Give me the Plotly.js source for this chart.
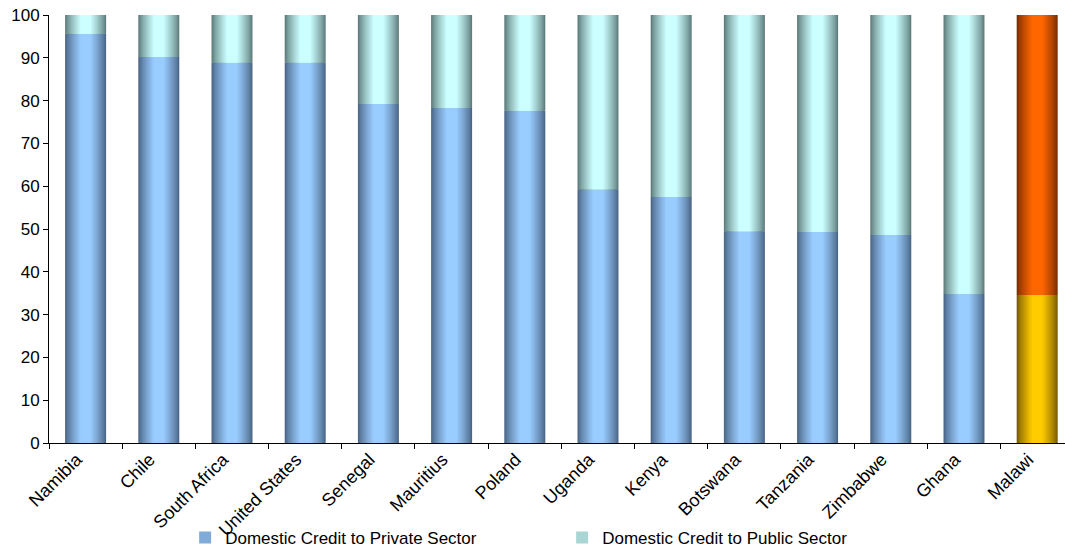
<!DOCTYPE html>
<html>
<head>
<meta charset="utf-8">
<script src="https://cdn.plot.ly/plotly-3.0.1.min.js"></script>
<style>
  html, body { margin: 0; padding: 0; background: #ffffff; }
  #chart { width: 1065px; height: 548px; }
</style>
</head>
<body>
<div id="chart"></div>
<script>
// Share of domestic credit going to the private and public sectors (%)
const countries = ["Namibia", "Chile", "South Africa", "United States", "Senegal", "Mauritius",
                   "Poland", "Uganda", "Kenya", "Botswana", "Tanzania", "Zimbabwe", "Ghana", "Malawi"];
const privateShare = [95.6, 90.2, 88.9, 88.9, 79.2, 78.3, 77.6, 59.3, 57.5, 49.5, 49.3, 48.6, 34.8, 34.6];
const publicShare  = [4.4, 9.8, 11.1, 11.1, 20.8, 21.7, 22.4, 40.7, 42.5, 50.5, 50.7, 51.4, 65.2, 65.4];
const yTicks = [0, 10, 20, 30, 40, 50, 60, 70, 80, 90, 100];
const highlighted = "Malawi";

// Cylinder shading: each bar is a stack of narrower, lighter layers (edge -> centre)
const palette = {
  private: { edge: "#4b6686", centre: "#99ccff", hiEdge: "#7a5c00", hiCentre: "#ffcc00" },
  public:  { edge: "#5e7c7c", centre: "#ccffff", hiEdge: "#7a2e00", hiCentre: "#ff6600" }
};
const LAYERS = 14;
const BAR_WIDTH = 0.56;

function hexToRgb(h) {
  const n = parseInt(h.slice(1), 16);
  return [(n >> 16) & 255, (n >> 8) & 255, n & 255];
}
function mix(a, b, t) {
  const A = hexToRgb(a), B = hexToRgb(b);
  const c = A.map((v, i) => Math.round(v + (B[i] - v) * t));
  return "rgb(" + c.join(",") + ")";
}

function shadedSeries(name, values, base, pal) {
  const out = [];
  for (let k = 0; k < LAYERS; k++) {
    const t = k / (LAYERS - 1);
    const shade = Math.pow(t, 0.8);
    const colors = countries.map(c => c === highlighted
      ? mix(pal.hiEdge, pal.hiCentre, shade)
      : mix(pal.edge, pal.centre, shade));
    out.push({
      type: "bar",
      name: name,
      x: countries,
      y: values,
      base: base,
      width: BAR_WIDTH * (1 - 0.74 * t),
      marker: { color: colors, line: { width: 0 } },
      showlegend: k === Math.round(LAYERS * 0.55),
      hoverinfo: "skip"
    });
  }
  return out;
}

const traces = []
  .concat(shadedSeries("Domestic Credit to Private Sector", privateShare, null, palette.private))
  .concat(shadedSeries("Domestic Credit to Public Sector", publicShare, privateShare, palette.public));

const family = "'Liberation Sans', Arial, sans-serif";
const yTickFont = { family: family, size: 17, color: "#000000" };
const xTickFont = { family: family, size: 18, color: "#000000" };
const legendFont = { family: family, size: 17, color: "#000000" };

const layout = {
  width: 1065,
  height: 548,
  margin: { l: 49, r: 0, t: 15, b: 105, pad: 0, autoexpand: false },
  paper_bgcolor: "#ffffff",
  plot_bgcolor: "#ffffff",
  barmode: "overlay",
  font: yTickFont,
  xaxis: {
    type: "category",
    range: [-0.5, 13.38],
    showline: true,
    linecolor: "#000000",
    linewidth: 1,
    ticks: "outside",
    tickson: "boundaries",
    ticklen: 5,
    tickcolor: "#000000",
    tickangle: -45,
    tickfont: xTickFont,
    ticklabelshift: -9,
    ticklabelstandoff: -2,
    showgrid: false,
    zeroline: false,
    automargin: false,
    fixedrange: true
  },
  yaxis: {
    range: [0, 100],
    tickvals: yTicks,
    ticktext: yTicks.map(String),
    showline: true,
    linecolor: "#000000",
    linewidth: 1,
    ticks: "outside",
    ticklen: 5,
    tickcolor: "#000000",
    tickfont: yTickFont,
    showgrid: false,
    zeroline: false,
    automargin: false,
    fixedrange: true
  },
  legend: {
    orientation: "h",
    x: 0.134,
    xanchor: "left",
    y: -0.222,
    yanchor: "middle",
    font: legendFont,
    entrywidth: 332,
    entrywidthmode: "pixels",
    itemwidth: 30,
    bgcolor: "rgba(0,0,0,0)"
  },
  showlegend: true
};

Plotly.newPlot("chart", traces, layout, { displayModeBar: false, staticPlot: true });
</script>
</body>
</html>
